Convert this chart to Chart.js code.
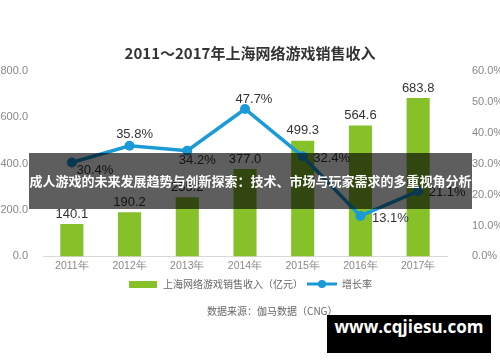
<!DOCTYPE html>
<html>
<head>
<meta charset="utf-8">
<script src="https://cdn.jsdelivr.net/npm/chart.js@4"></script>
<style>
  body { margin: 0; background: #fff; }
  #wrap { position: relative; width: 500px; height: 362px; overflow: hidden; }
  #banner {
    position: absolute; left: 29px; top: 153px; width: 443px; height: 56px;
    background: rgba(0, 0, 0, 0.63); color: #fff;
    font: bold 13px "Noto Sans CJK SC", sans-serif; line-height: 56px;
    text-align: center; white-space: nowrap;
  }
  #source {
    position: absolute; left: 207px; top: 303px;
    font: 10px "Noto Sans CJK SC", sans-serif; color: #666; white-space: nowrap;
  }
  #mark {
    position: absolute; left: 327px; top: 315px; width: 164px; height: 38px;
    background: #000; color: #fff; text-align: center; line-height: 38px;
    font: bold 17px "Open Sans", sans-serif;
  }
</style>
</head>
<body>
<div id="wrap">
  <canvas id="chart" width="500" height="362"></canvas>
  <div id="banner">成人游戏的未来发展趋势与创新探索：技术、市场与玩家需求的多重视角分析</div>
  <div id="source">数据来源：伽马数据（CNG）</div>
  <div id="mark">www.cqjiesu.com</div>
</div>
<script>
// data
const years = ['2011年', '2012年', '2013年', '2014年', '2015年', '2016年', '2017年'];
const revenue = [140.1, 190.2, 255.2, 377.0, 499.3, 564.6, 683.8];
const growth = [30.4, 35.8, 34.2, 47.7, 32.4, 13.1, 21.1];

// where each growth label sits relative to its point
const growthDx = [23, 5, 10, 9, 29, 30, 29];
const growthDy = [8, -11, 10, -10, 2, 3, 1];

const GREEN = '#86c12a';
const BLUE = '#1a9ad6';

// legend icons
const barIcon = document.createElement('canvas');
barIcon.width = 28; barIcon.height = 7;
barIcon.getContext('2d').fillStyle = GREEN;
barIcon.getContext('2d').fillRect(0, 0, 28, 7);

const lineIcon = document.createElement('canvas');
lineIcon.width = 30; lineIcon.height = 10;
(function () {
  const c = lineIcon.getContext('2d');
  c.strokeStyle = BLUE; c.lineWidth = 3;
  c.beginPath(); c.moveTo(0, 5); c.lineTo(30, 5); c.stroke();
  c.fillStyle = BLUE;
  c.beginPath(); c.arc(15, 5, 4, 0, Math.PI * 2); c.fill();
})();

const valueLabels = {
  id: 'valueLabels',
  afterDatasetsDraw(chart) {
    const ctx = chart.ctx;
    ctx.save();
    ctx.font = '13px "Liberation Sans", Arial, sans-serif';
    ctx.fillStyle = '#333';
    ctx.textAlign = 'center';
    ctx.textBaseline = 'middle';
    chart.getDatasetMeta(0).data.forEach((bar, i) => {
      ctx.fillText(revenue[i].toFixed(1), bar.x, bar.y - 10);
    });
    chart.getDatasetMeta(1).data.forEach((pt, i) => {
      ctx.fillText(growth[i].toFixed(1) + '%', pt.x + growthDx[i], pt.y + growthDy[i]);
    });
    ctx.restore();
  }
};

new Chart(document.getElementById('chart').getContext('2d'), {
  data: {
    labels: years,
    datasets: [
      {
        type: 'bar',
        label: '上海网络游戏销售收入（亿元）',
        data: revenue,
        backgroundColor: GREEN,
        yAxisID: 'y',
        barPercentage: 0.4,
        categoryPercentage: 1,
        order: 2
      },
      {
        type: 'line',
        label: '增长率',
        data: growth,
        borderColor: BLUE,
        backgroundColor: BLUE,
        borderWidth: 3.5,
        pointRadius: 5,
        pointBackgroundColor: BLUE,
        pointBorderWidth: 0,
        tension: 0,
        yAxisID: 'y1',
        order: 1
      }
    ]
  },
  options: {
    responsive: false,
    animation: false,
    layout: { padding: { left: 0, right: 0, top: 0, bottom: 63 } },
    scales: {
      x: {
        offset: true,
        grid: { display: false, drawTicks: false },
        border: { display: true, color: '#d9d9d9', width: 1 },
        ticks: { color: '#888', font: { size: 10.5, family: 'Liberation Sans' }, padding: 3, maxRotation: 0 }
      },
      y: {
        position: 'left',
        min: 0, max: 800,
        grid: { display: false, drawTicks: false },
        border: { display: false },
        ticks: {
          stepSize: 200, padding: 15, color: '#888',
          font: { size: 11, family: 'Liberation Sans' },
          callback: v => v.toFixed(1)
        },
        afterFit: s => { s.width = 43; }
      },
      y1: {
        position: 'right',
        min: 0, max: 60,
        grid: { display: false, drawTicks: false },
        border: { display: false },
        ticks: {
          stepSize: 10, padding: 25, color: '#888',
          font: { size: 11, family: 'Liberation Sans' },
          callback: v => v.toFixed(1) + '%'
        },
        afterFit: s => { s.width = 53; }
      }
    },
    plugins: {
      title: {
        display: true,
        text: '2011～2017年上海网络游戏销售收入',
        color: '#333',
        font: { size: 15, weight: 'bold', family: 'Noto Sans CJK SC' },
        padding: { top: 44, bottom: 9 }
      },
      legend: {
        position: 'bottom',
        labels: {
          usePointStyle: true,
          pointStyleWidth: 30,
          boxHeight: 10,
          padding: 4,
          color: '#666',
          font: { size: 10, family: 'Noto Sans CJK SC' },
          generateLabels(chart) {
            const items = Chart.defaults.plugins.legend.labels.generateLabels(chart);
            items.sort((a, b) => a.datasetIndex - b.datasetIndex);
            items.forEach(it => {
              it.pointStyle = it.datasetIndex === 0 ? barIcon : lineIcon;
            });
            return items;
          }
        }
      },
      tooltip: { enabled: false }
    }
  },
  plugins: [valueLabels]
});
</script>
</body>
</html>
